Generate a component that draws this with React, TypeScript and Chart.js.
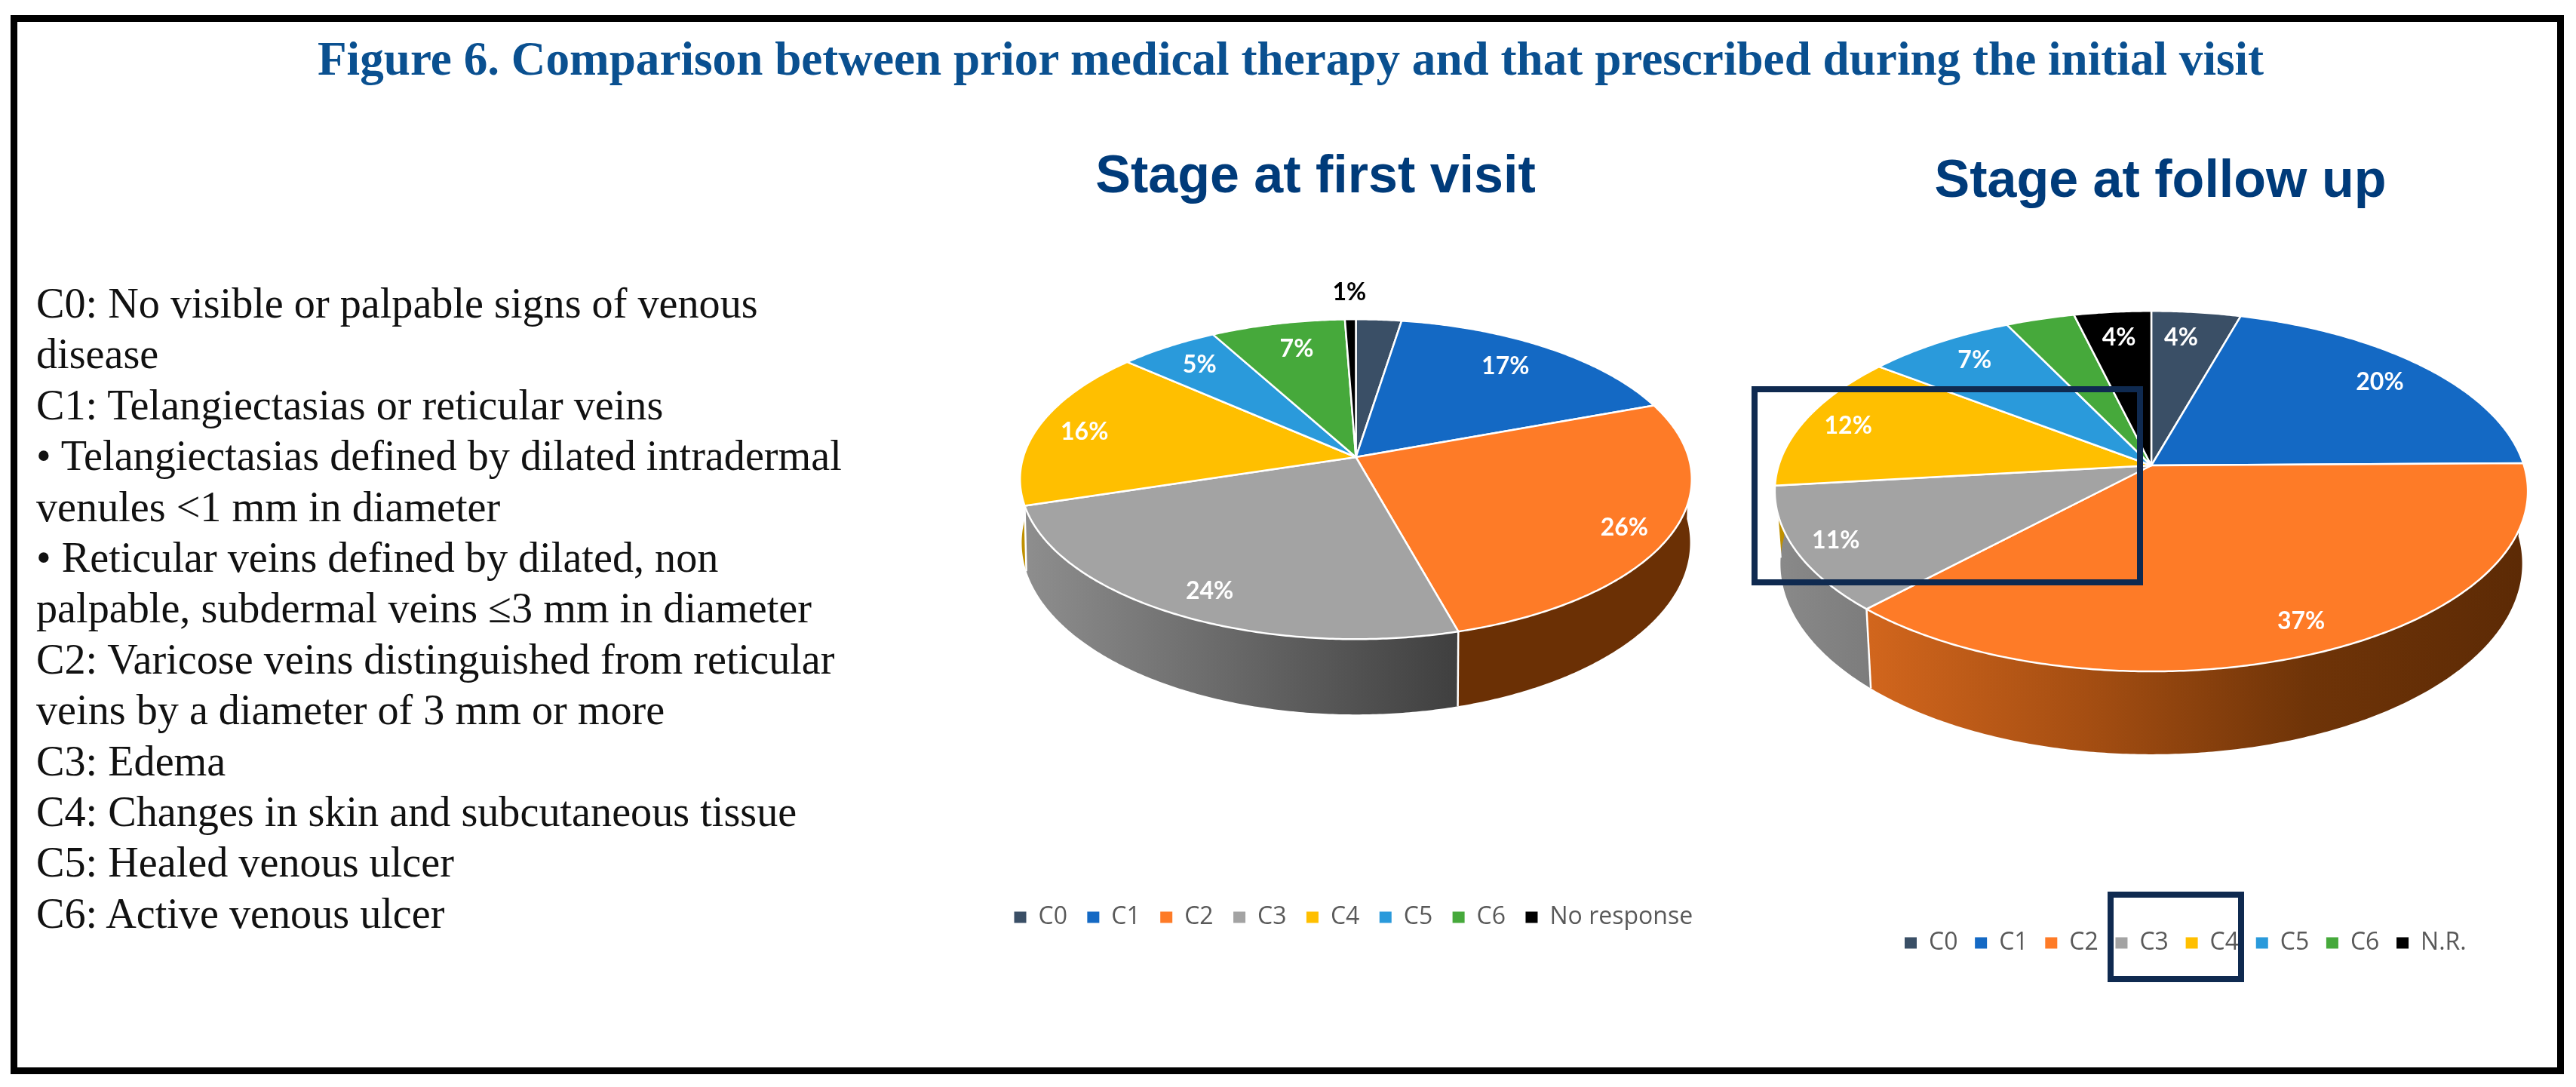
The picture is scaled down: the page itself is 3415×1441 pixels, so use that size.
import React, { useEffect, useRef } from "react";
import { Chart, registerables } from "chart.js";

Chart.register(...registerables);

// ---------- data ----------
const firstCategories = ["C0", "C1", "C2", "C3", "C4", "C5", "C6", "No response"];
const firstValues = [2.5, 16.9, 26.3, 24.5, 16.3, 5.5, 7.4, 0.6];
const firstLabels = ["", "17%", "26%", "24%", "16%", "5%", "7%", "1%"];

const followCategories = ["C0", "C1", "C2", "C3", "C4", "C5", "C6", "N.R."];
const followValues = [4.4, 20.4, 37.2, 11.2, 12.2, 7.4, 3.4, 3.8];
const followLabels = ["4%", "20%", "37%", "11%", "12%", "7%", "", "4%"];

const sliceColors = ["#3A4F66", "#1469C4", "#FE7B27", "#A3A3A3", "#FFBF00", "#2A9ADB", "#46A93B", "#000000"];

const mainTitle = "Figure 6. Comparison between prior medical therapy and that prescribed during the initial visit";
const definitions = [
  "C0: No visible or palpable signs of venous",
  "disease",
  "C1: Telangiectasias or reticular veins",
  "• Telangiectasias defined by dilated intradermal",
  "venules <1 mm in diameter",
  "• Reticular veins defined by dilated, non",
  "palpable, subdermal veins ≤3 mm in diameter",
  "C2: Varicose veins distinguished from reticular",
  "veins by a diameter of 3 mm or more",
  "C3: Edema",
  "C4: Changes in skin and subcutaneous tissue",
  "C5: Healed venous ulcer",
  "C6: Active venous ulcer",
];

// ---------- drawing configuration ----------
const W_PAGE = 3415;
const H_PAGE = 1441;

const firstView = {
  canvas: { left: 1250, top: 130, width: 1060, height: 1200 },
  hub: { x: 1797.5, y: 606 },
  A: 441, B: 208, k: 0.138,
  rimX: 0.995, rimY: 1.074, rimD: 82,
  title: { text: "Stage at first visit", cx: 1744, cy: 236 },
  legend: { x: 1344.5, cy: 1216, padding: 26.4 },
  labelRadius: [0, 0.797, 0.87, 0.86, 0.85, 0.818, 0.787, 1.225],
  labelTurn: [0, -1.6, 2, -1.4, -1, 0, 1, 0],
  labelColors: ["#fff", "#fff", "#fff", "#fff", "#fff", "#fff", "#fff", "#000"],
  walls: [
    ["#3D5269", "#3D5269"],
    ["#0D4378", "#0D4378"],
    ["#6B3005", "#6B3005"],
    ["#8E8E8E", "#3F3F3F"],
    ["#BF9000", "#BF9000"],
    ["#1D6B99", "#1D6B99"],
    ["#2F7528", "#2F7528"],
    ["#000000", "#000000"],
  ],
};

const followView = {
  canvas: { left: 2310, top: 130, width: 1080, height: 1200 },
  hub: { x: 2852, y: 617 },
  A: 494, B: 234, k: 0.143,
  rimX: 0.985, rimY: 1.058, rimD: 94,
  title: { text: "Stage at follow up", cx: 2864, cy: 242 },
  legend: { x: 2525, cy: 1250, padding: 22.7 },
  labelRadius: [0.81, 0.828, 0.862, 0.893, 0.872, 0.832, 0, 0.812],
  labelTurn: [-1.6, 0, -0.7, 0, 0, 0.7, 0, 0],
  labelColors: ["#fff", "#fff", "#fff", "#fff", "#fff", "#fff", "#fff", "#fff"],
  walls: [
    ["#3D5269", "#3D5269"],
    ["#0D4378", "#0D4378"],
    ["#D2661D", "#A54E12", "#6F3408", "#5C2A05"],
    ["#8A8A8A", "#7C7C7C"],
    ["#BF9000", "#BF9000"],
    ["#1D6B99", "#1D6B99"],
    ["#2F7528", "#2F7528"],
    ["#000000", "#000000"],
  ],
};

type View = typeof firstView;

function pie3dPlugin(view: View, printed: string[]) {
  const ox = view.hub.x - view.canvas.left;
  const oy = view.hub.y - view.canvas.top;
  const top = (a: number, r = 1): [number, number] => {
    const u = r * Math.cos(a);
    const v = r * Math.sin(a);
    const w = 1 - view.k * v;
    return [ox + (view.A * u) / w, oy + (view.B * v) / w];
  };
  const low = (a: number): [number, number] => {
    const [x, y] = top(a);
    return [ox + (x - ox) * view.rimX, oy + (y - oy) * view.rimY + view.rimD];
  };
  const STEP = Math.PI / 360;
  const sweep = (a0: number, a1: number) => {
    const n = Math.max(2, Math.ceil((a1 - a0) / STEP));
    const out: number[] = [];
    for (let i = 0; i <= n; i++) out.push(a0 + ((a1 - a0) * i) / n);
    return out;
  };

  return {
    id: "pie3d",
    afterLayout(chart: any) {
      const t = chart.titleBlock;
      const tw = t.right - t.left;
      const th = t.bottom - t.top;
      const lh = t.options.font.size * 1.2;
      t.left = view.title.cx - view.canvas.left - tw / 2;
      t.right = t.left + tw;
      t.top = view.title.cy - view.canvas.top - lh / 2;
      t.bottom = t.top + th;

      const l = chart.legend;
      const lw = l.right - l.left;
      const lhh = l.bottom - l.top;
      const pad = l.options.labels.padding;
      const fs = l.options.labels.font.size;
      l.left = view.legend.x - view.canvas.left - pad;
      l.right = l.left + lw;
      l.top = view.legend.cy - view.canvas.top - pad - fs / 2;
      l.bottom = l.top + lhh;
    },
    beforeDatasetsDraw(chart: any) {
      const ctx: CanvasRenderingContext2D = chart.ctx;
      const meta = chart.getDatasetMeta(0);
      const arcs = meta.data.map((el: any) => ({
        ...el.getProps(["startAngle", "endAngle"], true),
        fill: el.options.backgroundColor,
        stroke: el.options.borderColor,
        lw: el.options.borderWidth,
      }));

      // side wall of the slices that face the viewer
      arcs.forEach((arc: any, i: number) => {
        const a0 = Math.max(arc.startAngle, 0);
        const a1 = Math.min(arc.endAngle, Math.PI);
        if (a1 <= a0) return;
        const angs = sweep(a0, a1);
        const ups = angs.map((a) => top(a));
        const los = angs.map((a) => low(a)).reverse();
        const xs = ups.concat(los).map((p) => p[0]);
        const g = ctx.createLinearGradient(Math.min(...xs), 0, Math.max(...xs), 0);
        const stops = view.walls[i];
        stops.forEach((c: string, j: number) => g.addColorStop(j / (stops.length - 1), c));
        ctx.beginPath();
        ups.concat(los).forEach(([x, y], j) => (j ? ctx.lineTo(x, y) : ctx.moveTo(x, y)));
        ctx.closePath();
        ctx.fillStyle = g;
        ctx.fill();
      });
      // white edge between neighbouring walls
      arcs.forEach((arc: any) => {
        const a = arc.endAngle;
        if (a <= 0 || a >= Math.PI) return;
        const [x0, y0] = top(a);
        const [x1, y1] = low(a);
        ctx.beginPath();
        ctx.moveTo(x0, y0);
        ctx.lineTo(x1, y1);
        ctx.lineWidth = arc.lw;
        ctx.strokeStyle = arc.stroke;
        ctx.stroke();
      });

      // top face
      arcs.forEach((arc: any) => {
        ctx.beginPath();
        ctx.moveTo(ox, oy);
        sweep(arc.startAngle, arc.endAngle).forEach((a) => {
          const [x, y] = top(a);
          ctx.lineTo(x, y);
        });
        ctx.closePath();
        ctx.fillStyle = arc.fill;
        ctx.fill();
        ctx.lineWidth = arc.lw;
        ctx.strokeStyle = arc.stroke;
        ctx.lineJoin = "round";
        ctx.stroke();
      });

      // value labels
      ctx.font = "bold 32px Lato";
      ctx.textAlign = "center";
      ctx.textBaseline = "middle";
      arcs.forEach((arc: any, i: number) => {
        if (!printed[i]) return;
        const mid = (arc.startAngle + arc.endAngle) / 2 + (view.labelTurn[i] * Math.PI) / 180;
        const [x, y] = top(mid, view.labelRadius[i]);
        ctx.fillStyle = view.labelColors[i];
        ctx.fillText(printed[i], x, y);
      });
      return false;
    },
  };
}

function makeChart(canvas: HTMLCanvasElement, view: View, categories: string[], values: number[], printed: string[]) {
  return new Chart(canvas, {
    type: "pie",
    data: {
      labels: categories,
      datasets: [
        {
          data: values,
          backgroundColor: sliceColors,
          borderColor: "#FFFFFF",
          borderWidth: 2.5,
        },
      ],
    },
    options: {
      responsive: false,
      animation: false,
      devicePixelRatio: 1,
      plugins: {
        tooltip: { enabled: false },
        title: {
          display: true,
          text: view.title.text,
          color: "#003B7A",
          font: { family: "'Liberation Sans'", weight: "bold", size: 70 },
          padding: 0,
        },
        legend: {
          display: true,
          position: "bottom",
          align: "start",
          labels: {
            boxWidth: 16,
            boxHeight: 15,
            padding: view.legend.padding,
            color: "#595959",
            font: { family: "'Open Sans'", size: 32 },
            generateLabels: (chart: any) =>
              (Chart as any).overrides.pie.plugins.legend.labels
                .generateLabels(chart)
                .map((item: any) => ({ ...item, lineWidth: 0 })),
          },
        },
      },
    } as any,
    plugins: [pie3dPlugin(view, printed) as any],
  });
}

const abs = (l: number, t: number, w: number, h: number): React.CSSProperties => ({
  position: "absolute",
  left: l,
  top: t,
  width: w,
  height: h,
  boxSizing: "border-box",
});

export default function App() {
  const firstRef = useRef<HTMLCanvasElement>(null);
  const followRef = useRef<HTMLCanvasElement>(null);

  useEffect(() => {
    const a = makeChart(firstRef.current!, firstView, firstCategories, firstValues, firstLabels);
    const b = makeChart(followRef.current!, followView, followCategories, followValues, followLabels);
    return () => {
      a.destroy();
      b.destroy();
    };
  }, []);

  return (
    <div style={{ ...abs(0, 0, W_PAGE, H_PAGE), background: "#fff", overflow: "hidden" }}>
      <div style={{ ...abs(14, 20, 3385, 1404), border: "9px solid #000" }} />
      <div
        style={{
          position: "absolute",
          left: 421,
          top: 42,
          whiteSpace: "nowrap",
          font: "bold 63.2px/72px 'Liberation Serif'",
          color: "#0A5090",
        }}
      >
        {mainTitle}
      </div>
      {definitions.map((line, i) => (
        <div
          key={i}
          style={{
            position: "absolute",
            left: 48,
            top: 402 + i * 67.4 - 34,
            whiteSpace: "nowrap",
            font: "56.2px/68px 'Liberation Serif'",
            color: "#111",
          }}
        >
          {line}
        </div>
      ))}
      <canvas
        ref={firstRef}
        width={firstView.canvas.width}
        height={firstView.canvas.height}
        style={{ ...abs(firstView.canvas.left, firstView.canvas.top, firstView.canvas.width, firstView.canvas.height) }}
      />
      <canvas
        ref={followRef}
        width={followView.canvas.width}
        height={followView.canvas.height}
        style={{ ...abs(followView.canvas.left, followView.canvas.top, followView.canvas.width, followView.canvas.height) }}
      />
      <div style={{ ...abs(2322, 512, 519, 264), border: "8px solid #0F2A50" }} />
      <div style={{ ...abs(2794, 1182, 181, 120), border: "8px solid #0F2A50" }} />
    </div>
  );
}
